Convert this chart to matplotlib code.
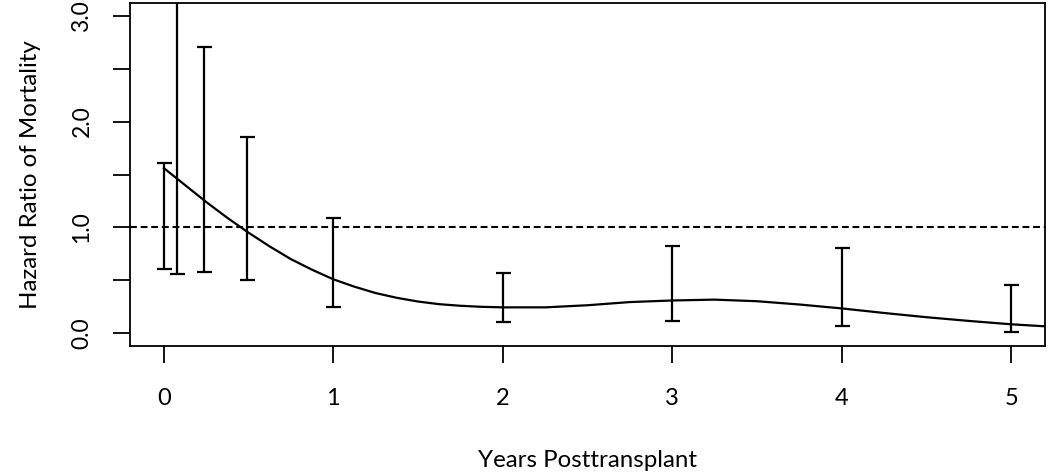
import matplotlib
matplotlib.use("Agg")
import matplotlib.pyplot as plt

plt.rcParams['font.family'] = ['Lato', 'DejaVu Sans']

# fitted hazard ratio curve
curve_x = [0, 0.125, 0.25, 0.375, 0.5, 0.625, 0.75, 0.875, 1.0, 1.125, 1.25, 1.375, 1.5,
           1.625, 1.75, 1.875, 2.0, 2.25, 2.5, 2.75, 3.0, 3.25, 3.5, 3.75, 4.0, 4.25,
           4.5, 4.75, 5.0, 5.2]
curve_y = [1.56, 1.40, 1.24, 1.09, 0.95, 0.82, 0.70, 0.60, 0.51, 0.44, 0.38, 0.335, 0.30,
           0.275, 0.26, 0.25, 0.245, 0.245, 0.265, 0.295, 0.31, 0.318, 0.303, 0.272, 0.235, 0.192,
           0.152, 0.117, 0.085, 0.066]

# confidence intervals at each time point
ci_x = [0, 0.075, 0.235, 0.49, 1, 2, 3, 4, 5]
ci_lo = [0.61, 0.56, 0.58, 0.50, 0.25, 0.105, 0.115, 0.07, 0.015]
ci_hi = [1.61, 3.60, 2.70, 1.85, 1.09, 0.565, 0.825, 0.805, 0.46]

x_ticks = [0, 1, 2, 3, 4, 5]
y_ticks = [0, 0.5, 1.0, 1.5, 2.0, 2.5, 3.0]
y_labels = ['0.0', '', '1.0', '', '2.0', '', '3.0']

fig = plt.figure(figsize=(10.5, 4.75), dpi=100)
ax = fig.add_axes([130/1050, 1-346/475, 915/1050, 343/475])

ax.plot(curve_x, curve_y, color='black', lw=1.6)
ax.axhline(1.0, color='black', lw=1.5, linestyle=(0, (3.3, 1.8)))

mid = [(a + b) / 2 for a, b in zip(ci_lo, ci_hi)]
half = [(b - a) / 2 for a, b in zip(ci_lo, ci_hi)]
ax.errorbar(ci_x, mid, yerr=half, fmt='none', ecolor='black',
            elinewidth=1.6, capsize=5.4, capthick=1.6)

ax.set_xlim(-0.2, 5.2)
ax.set_ylim(-0.12, 3.12)
ax.set_xticks(x_ticks)
ax.set_yticks(y_ticks)
ax.set_yticklabels(y_labels, rotation=90, va='center')
ax.tick_params(axis='x', length=12, width=1.3, pad=18, labelsize=17)
ax.tick_params(axis='y', length=12, width=1.3, pad=15, labelsize=16.5)
for s in ax.spines.values():
    s.set_linewidth(1.3)

ax.set_xlabel('Years Posttransplant', fontsize=17.3, labelpad=30)
ax.set_ylabel('Hazard Ratio of Mortality', fontsize=17.3, labelpad=22)

fig.savefig('out.png', dpi=100)
